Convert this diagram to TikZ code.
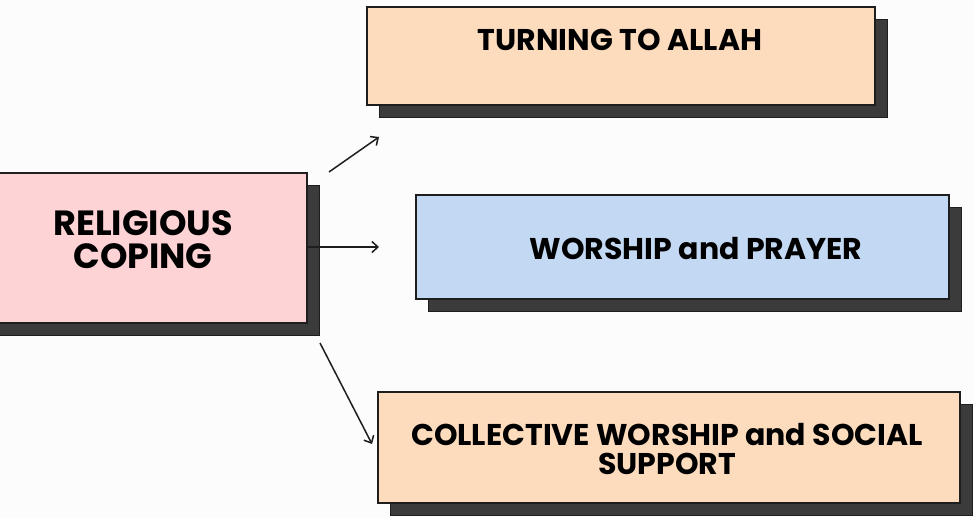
\documentclass[tikz,border=0pt]{standalone}
\usepackage{fontspec}
\setmainfont{Poppins}
\usetikzlibrary{arrows.meta,shadows}
\definecolor{bgc}{HTML}{FCFCFC}
\definecolor{peach}{HTML}{FDDCBE}
\definecolor{bluebox}{HTML}{C3D8F2}
\definecolor{pinkbox}{HTML}{FDD3D5}
\definecolor{shadowc}{HTML}{3B3B3B}
\definecolor{edge}{HTML}{1E1E1E}
\tikzset{
  card/.style={draw=edge, line width=1.3pt, inner sep=0pt,
    general shadow={fill=shadowc, draw=edge, line width=1.3pt,
      shadow xshift=12.5pt, shadow yshift=-12.5pt}},
  lbl/.style={font=\fontsize{30}{31}\selectfont\bfseries, align=center, text=black, inner sep=0pt},
  conn/.style={line width=1.5pt, draw=edge, -{Straight Barb[length=6pt,width=11pt,line width=1.5pt]}}
}
\begin{document}
\begin{tikzpicture}[x=1pt,y=-1pt]
\fill[bgc] (0,0) rectangle (974,518);
\useasboundingbox (0,0) rectangle (974,518);
\begin{scope}
\clip (0,0) rectangle (974,518);
\node[card, fill=pinkbox, minimum width=332pt, minimum height=150pt] (rc) at (141,248) {};
\node[card, fill=peach, minimum width=508pt, minimum height=98pt] (ta) at (621,56) {};
\node[card, fill=bluebox, minimum width=533pt, minimum height=104pt] (wp) at (682.5,247) {};
\node[card, fill=peach, minimum width=582pt, minimum height=111pt] (cw) at (669,447.5) {};
\end{scope}
\node[lbl, font=\fontsize{35}{33}\selectfont\bfseries] (rct) at (143,240) {RELIGIOUS\\COPING};
\node[lbl] (tat) at (620,40) {TURNING TO ALLAH};
\node[lbl] (wpt) at (696,249) {WORSHIP and PRAYER};
\node[lbl, font=\fontsize{30}{29}\selectfont\bfseries] (cwt) at (667,449) {COLLECTIVE WORSHIP and SOCIAL\\SUPPORT};
\coordinate (a1s) at (329,172);
\coordinate (a1e) at (379,137);
\coordinate (a2e) at (379,247);
\coordinate (a3s) at (320,343);
\coordinate (a3e) at (372,444);
\draw[conn] (a1s) -- (a1e);
\draw[conn] (rc.east |- a2e) -- (a2e);
\draw[conn] (a3s) -- (a3e);
\end{tikzpicture}
\end{document}
